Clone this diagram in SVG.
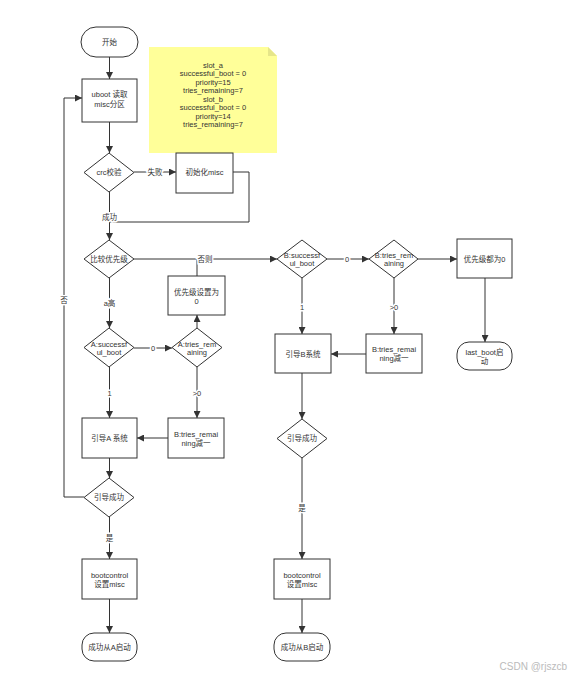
<svg xmlns="http://www.w3.org/2000/svg" width="571" height="679" viewBox="0 0 571 679">
<style>
.bg{fill:#fff}
.n{fill:#fff;stroke:#333;stroke-width:1}
.t{font-family:"Liberation Sans","Noto Sans CJK SC",sans-serif;font-size:7.5px;fill:#333;text-anchor:middle;dominant-baseline:central}
.c{fill:none;stroke:#333;stroke-width:1}
.lb{font-family:"Liberation Sans","Noto Sans CJK SC",sans-serif;font-size:7.5px;fill:#333;text-anchor:middle;dominant-baseline:central;stroke:#fff;stroke-width:3;paint-order:stroke}
.note{fill:#ffff99;stroke:none}
.wm{font-family:"Liberation Sans","Noto Sans CJK SC",sans-serif;font-size:10px;fill:#bbb;text-anchor:end}
</style>
<defs>
<marker id="ah" viewBox="0 0 10 10" refX="10" refY="5" markerWidth="7" markerHeight="7" markerUnits="userSpaceOnUse" orient="auto">
<path d="M0,0 L10,5 L0,10 Z" fill="#333"/>
</marker>
</defs>
<rect class="bg" width="571" height="679"/>
<g id="note">
<path class="note" d="M149,47 H268 L277,56 V153 H149 Z"/>
<path d="M268,47 V56 H277 Z" fill="#e6e68a"/>
<text class="t" x="213" y="65">slot_a</text>
<text class="t" x="213" y="73.5">successful_boot = 0</text>
<text class="t" x="213" y="82">priority=15</text>
<text class="t" x="213" y="90.5">tries_remaining=7</text>
<text class="t" x="213" y="99">slot_b</text>
<text class="t" x="213" y="107.5">successful_boot = 0</text>
<text class="t" x="213" y="116">priority=14</text>
<text class="t" x="213" y="124.5">tries_remaining=7</text>
</g>
<g id="connectors">
<path class="c" d="M109.5,57 V79" marker-end="url(#ah)"/>
<path class="c" d="M109.5,122 V153" marker-end="url(#ah)"/>
<path class="c" d="M134,172 H176" marker-end="url(#ah)"/>
<path class="c" d="M233,172 H249 V222 H109.5"/>
<path class="c" d="M109.5,192 V240" marker-end="url(#ah)"/>
<path class="c" d="M134,259 H277" marker-end="url(#ah)"/>
<path class="c" d="M197,276 V259"/>
<path class="c" d="M109.5,278 V328" marker-end="url(#ah)"/>
<path class="c" d="M134,348 H172" marker-end="url(#ah)"/>
<path class="c" d="M197,328 V315" marker-end="url(#ah)"/>
<path class="c" d="M109.5,367 V418" marker-end="url(#ah)"/>
<path class="c" d="M197,367 V418" marker-end="url(#ah)"/>
<path class="c" d="M168,438 H137" marker-end="url(#ah)"/>
<path class="c" d="M109.5,458 V478" marker-end="url(#ah)"/>
<path class="c" d="M84,497 H64 V98 H82" marker-end="url(#ah)"/>
<path class="c" d="M109.5,517 V559" marker-end="url(#ah)"/>
<path class="c" d="M109.5,599 V633" marker-end="url(#ah)"/>
<path class="c" d="M327,259 H369" marker-end="url(#ah)"/>
<path class="c" d="M418,259 H457" marker-end="url(#ah)"/>
<path class="c" d="M485,278 V342" marker-end="url(#ah)"/>
<path class="c" d="M302,278 V334" marker-end="url(#ah)"/>
<path class="c" d="M394,278 V334" marker-end="url(#ah)"/>
<path class="c" d="M366,354 H331" marker-end="url(#ah)"/>
<path class="c" d="M302,373 V419" marker-end="url(#ah)"/>
<path class="c" d="M302,458 V559" marker-end="url(#ah)"/>
<path class="c" d="M302,599 V633" marker-end="url(#ah)"/>
<text class="lb" x="155" y="172">失败</text>
<text class="lb" x="109.5" y="217">成功</text>
<text class="lb" x="205" y="259">否则</text>
<text class="lb" x="109.5" y="303">a高</text>
<text class="lb" x="153" y="348">0</text>
<text class="lb" x="109.5" y="393">1</text>
<text class="lb" x="197" y="393">&gt;0</text>
<text class="lb" x="64" y="300">否</text>
<text class="lb" x="109.5" y="538">是</text>
<text class="lb" x="347" y="259">0</text>
<text class="lb" x="302" y="307">1</text>
<text class="lb" x="394" y="307">&gt;0</text>
<text class="lb" x="302" y="508">是</text>
</g>
<g id="start"><rect class="n" x="81" y="27" width="57" height="30" rx="15"/><text class="t" x="109.5" y="42">开始</text></g>
<g id="uboot"><rect class="n" x="82" y="79" width="55" height="43"/><text class="t" x="109.5" y="94">uboot 读取</text><text class="t" x="109.5" y="104">misc分区</text></g>
<g id="crc"><path class="n" d="M109,153 L134,172.5 L109,192 L84,172.5 Z"/><text class="t" x="109" y="172.5">crc校验</text></g>
<g id="initmisc"><rect class="n" x="176" y="153" width="57" height="40"/><text class="t" x="204.5" y="172">初始化misc</text></g>
<g id="cmp"><path class="n" d="M109,240 L134,259 L109,278 L84,259 Z"/><text class="t" x="109" y="259">比较优先级</text></g>
<g id="setzero"><rect class="n" x="168" y="276" width="57" height="39"/><text class="t" x="196.5" y="292">优先级设置为</text><text class="t" x="196.5" y="301">0</text></g>
<g id="asucc"><path class="n" d="M109,328 L134,347.5 L109,367 L84,347.5 Z"/><text class="t" x="109" y="344">A:successf</text><text class="t" x="109" y="352.5">ul_boot</text></g>
<g id="atries"><path class="n" d="M197,328 L222,347.5 L197,367 L172,347.5 Z"/><text class="t" x="197" y="344">A:tries_rem</text><text class="t" x="197" y="352.5">aining</text></g>
<g id="bootA"><rect class="n" x="82" y="418" width="55" height="40"/><text class="t" x="109.5" y="438">引导A 系统</text></g>
<g id="decA"><rect class="n" x="168" y="418" width="56" height="40"/><text class="t" x="196" y="434">B:tries_remai</text><text class="t" x="196" y="443">ning减一</text></g>
<g id="okA"><path class="n" d="M109,478 L134,497.5 L109,517 L84,497.5 Z"/><text class="t" x="109" y="497.5">引导成功</text></g>
<g id="bcA"><rect class="n" x="82" y="559" width="55" height="40"/><text class="t" x="109.5" y="575">bootcontrol</text><text class="t" x="109.5" y="584">设置misc</text></g>
<g id="endA"><rect class="n" x="82" y="633" width="55" height="28" rx="12"/><text class="t" x="109.5" y="647">成功从A启动</text></g>
<g id="bsucc"><path class="n" d="M302,240 L327,259 L302,278 L277,259 Z"/><text class="t" x="302" y="255">B:successf</text><text class="t" x="302" y="263.5">ul_boot</text></g>
<g id="btries"><path class="n" d="M394,240 L418,259 L394,278 L369,259 Z"/><text class="t" x="394" y="255">B:tries_rem</text><text class="t" x="394" y="263.5">aining</text></g>
<g id="allzero"><rect class="n" x="457" y="239" width="55" height="39"/><text class="t" x="484.5" y="259">优先级都为0</text></g>
<g id="lastboot"><rect class="n" x="457" y="342" width="55" height="28" rx="12"/><text class="t" x="484.5" y="352">last_boot启</text><text class="t" x="484.5" y="361">动</text></g>
<g id="bootB"><rect class="n" x="275" y="334" width="56" height="39"/><text class="t" x="303" y="354">引导B系统</text></g>
<g id="decB"><rect class="n" x="366" y="334" width="56" height="39"/><text class="t" x="394" y="349">B:tries_remai</text><text class="t" x="394" y="358">ning减一</text></g>
<g id="okB"><path class="n" d="M302,419 L327,438.5 L302,458 L277,438.5 Z"/><text class="t" x="302" y="438.5">引导成功</text></g>
<g id="bcB"><rect class="n" x="274" y="559" width="56" height="40"/><text class="t" x="302" y="575">bootcontrol</text><text class="t" x="302" y="584">设置misc</text></g>
<g id="endB"><rect class="n" x="274" y="633" width="56" height="28" rx="12"/><text class="t" x="302" y="647">成功从B启动</text></g>
<text class="wm" x="567" y="670">CSDN @rjszcb</text>
</svg>
